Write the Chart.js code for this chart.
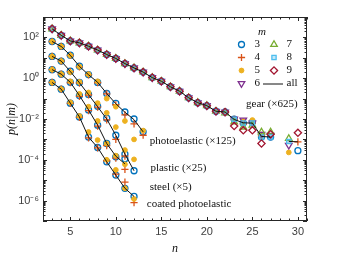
<!DOCTYPE html>
<html><head><meta charset="utf-8">
<script src="https://cdn.jsdelivr.net/npm/chart.js@4/dist/chart.umd.min.js"></script>
<style>html,body{margin:0;padding:0;background:#fff}</style>
</head><body>
<canvas id="c" width="339" height="256" style="width:339px;height:256px;display:block"></canvas>
<script>
// ---------------- data ----------------
const gearN = [3,4,5,6,7,8,9,10,11,12,13,14,15,16,17,18,19,20,21,22,23,24,25,26,27,28,29,30];
const gearAll = [263,126,67,54,37,24,14.5,9.3,5.2,3.2,2.0,1.07,0.71,0.38,0.23,0.11,0.063,0.045,0.024,0.022,0.0095,0.0065,0.0063,0.0014,0.0013,null,0.0008,0.00076];
const gearM3 = [263,126,67,54,37,24,14.5,9.3,5.2,3.2,2.0,1.07,0.71,0.38,0.23,0.11,0.063,0.045,0.024,0.022,0.0098,0.0063,0.0071,0.0013,0.0013,null,null,0.00028];
const gearM4 = [263,126,67,54,37,24,14.5,9.3,5.2,3.2,2.0,1.07,0.71,0.38,0.23,0.11,0.063,0.045,0.026,0.022,0.0095,0.0056,0.0063,0.0016,null,null,null,0.00076];
const gearM5 = [263,126,67,54,37,24,14.5,9.3,5.2,3.2,2.0,1.07,0.71,0.38,0.23,0.11,0.063,0.045,0.024,0.022,0.009,0.0079,0.0089,0.0014,null,null,0.00023,null];
const gearM6 = [263,126,67,54,37,24,14.5,9.3,5.2,3.2,2.0,1.07,0.71,0.38,0.23,0.11,0.063,0.045,0.024,0.022,0.010,0.0089,0.0063,0.0018,0.0016,null,0.00052,null];
const gearM7 = [263,126,67,54,37,24,14.5,9.3,5.2,3.2,2.0,1.07,0.71,0.38,0.23,0.11,0.063,0.045,0.024,0.020,0.0071,0.0040,0.0050,0.0023,0.0023,null,0.0011,null];
const gearM8 = [263,126,67,54,37,24,14.5,9.3,5.2,3.2,2.0,1.07,0.71,0.38,0.23,0.11,0.063,0.045,0.024,0.022,0.0098,0.0063,0.0063,0.0013,0.0013,null,0.00079,null];
const gearM9 = [263,126,67,54,37,24,14.5,9.3,5.2,3.2,2.0,1.07,0.71,0.38,0.23,0.11,0.063,0.045,0.024,0.022,0.0045,0.0028,0.0028,0.00063,0.0018,null,null,0.0021];

const photoN = [3,4,5,6,7,8,9,10,11,12,13];
const photoAll = [63,36,13.2,3.8,1.48,0.63,0.178,0.056,0.0214,0.0093,0.00234];
const photoM3 = [63,36,13.5,3.9,1.5,0.62,0.18,0.058,0.022,0.010,0.00234];
const photoM4 = [63,36,13.0,3.6,1.45,0.60,0.17,0.050,0.016,0.0058,0.0016];
const photoM5 = [63,36,13.0,3.7,1.55,0.70,0.10,0.040,0.008,0.001,0.0027];

const plasticN = [3,4,5,6,7,8,9,10,11,12];
const plasticAll = [11.7,6.9,2.14,0.6,0.158,0.04,0.01,0.0016,0.00019,0.000029];
const plasticM3 = [11.7,6.9,2.2,0.62,0.16,0.042,0.011,0.0016,0.00019,0.000029];
const plasticM4 = [11.7,6.9,2.1,0.58,0.15,0.038,0.009,0.001,0.00015,null];
const plasticM5 = [11.7,6.9,2.0,0.65,0.2,0.06,0.02,0.004,0.0003,0.000105];

const steelN = [3,4,5,6,7,8,9,10,11];
const steelAll = [2.63,1.58,0.63,0.141,0.028,0.005,0.00063,0.00015,0.000063];
const steelM3 = [2.63,1.58,0.63,0.14,0.028,0.005,0.00063,0.00014,0.000112];
const steelM4 = [2.63,1.58,0.6,0.13,0.026,0.0045,0.0005,0.00012,0.000034];
const steelM5 = [2.63,1.58,0.7,0.17,0.04,0.008,0.00063,0.00016,0.00006];

const coatedN = [3,4,5,6,7,8,9,10,11,12];
const coatedAll = [0.62,0.29,0.06,0.0126,0.0013,0.0004,0.00008,0.0000178,0.000004,0.0000016];
const coatedM3 = [0.62,0.29,0.06,0.0126,0.0013,0.0004,0.00008,0.0000178,0.000004,0.0000016];
const coatedM4 = [0.62,0.29,0.058,0.012,0.0012,0.00038,0.00009,0.00002,0.0000081,0.00000079];
const coatedM5 = [0.62,0.29,0.065,0.014,0.0023,0.00093,0.0001,0.000032,0.000004,0.0000012];

const mValues = [3,4,5,6,7,8,9];
const xTickValues = [5,10,15,20,25,30];
const xTickLabels = ['5','10','15','20','25','30'];
const yTickValues = [1e-6,1e-4,1e-2,1,1e2];
const yTickLabels = ['10\u207B\u2076','10\u207B\u2074','10\u207B\u00B2','10\u2070','10\u00B2'];
const systemLabels = ['gear (\u00D7625)','photoelastic (\u00D7125)','plastic (\u00D725)','steel (\u00D75)','coated photoelastic'];

// ---------------- styles ----------------
const mStyle = {
  3:{pointStyle:'circle', radius:3, color:'#0072BD', bg:'rgba(0,0,0,0)', bw:1.3, rot:0},
  4:{pointStyle:'cross', radius:3.6, color:'#D95319', bg:'rgba(0,0,0,0)', bw:1.3, rot:0},
  5:{pointStyle:'circle', radius:2.4, color:'#EDB120', bg:'#EDB120', bw:1, rot:0},
  6:{pointStyle:'triangle', radius:3.8, color:'#7E2F8E', bg:'rgba(0,0,0,0)', bw:1.3, rot:180},
  7:{pointStyle:'triangle', radius:3.8, color:'#77AC30', bg:'rgba(0,0,0,0)', bw:1.3, rot:0},
  8:{pointStyle:'rect', radius:3, color:'#4DBEEE', bg:'rgba(77,190,238,0.35)', bw:1.3, rot:0},
  9:{pointStyle:'rectRot', radius:3.6, color:'#A2142F', bg:'rgba(0,0,0,0)', bw:1.3, rot:0}
};

function pts(ns, vals){ return ns.map((n,i)=>({x:n, y:vals[i]})); }

const systems = [
  {n:gearN, all:gearAll, m:{3:gearM3,4:gearM4,5:gearM5,6:gearM6,7:gearM7,8:gearM8,9:gearM9}},
  {n:photoN, all:photoAll, m:{3:photoM3,4:photoM4,5:photoM5}},
  {n:plasticN, all:plasticAll, m:{3:plasticM3,4:plasticM4,5:plasticM5}},
  {n:steelN, all:steelAll, m:{3:steelM3,4:steelM4,5:steelM5}},
  {n:coatedN, all:coatedAll, m:{3:coatedM3,4:coatedM4,5:coatedM5}}
];

const datasets = [];
systems.forEach(sys=>{
  datasets.push({label:'all', data:pts(sys.n, sys.all), showLine:true, borderColor:'#111', borderWidth:1,
    pointRadius:0, pointHoverRadius:0, spanGaps:false, order:0, fill:false});
  mValues.forEach(m=>{
    if(!sys.m[m]) return;
    const s = mStyle[m];
    datasets.push({label:String(m), data:pts(sys.n, sys.m[m]), showLine:false,
      pointStyle:s.pointStyle, pointRadius:s.radius, pointRotation:s.rot,
      borderColor:s.color, backgroundColor:s.bg, pointBorderWidth:s.bw, pointBackgroundColor:s.bg, pointBorderColor:s.color,
      order:10-m+1});
  });
});

// ---------------- decorations ----------------
const labelAnchors = [
  {x:24.3, y:0.054}, {x:13.73, y:8.5e-4}, {x:13.8, y:4.1e-5}, {x:13.73, y:4.8e-6}, {x:13.4, y:7e-7}
];

const deco = {
  id:'deco',
  afterDatasetsDraw(chart){
    const {ctx, chartArea:a, scales:{x, y}} = chart;
    ctx.save();
    ctx.strokeStyle = '#262626'; ctx.lineWidth = 1;
    ctx.strokeRect(Math.round(a.left)+0.5, Math.round(a.top)+0.5, Math.round(a.right-a.left)-1, Math.round(a.bottom-a.top)-1);
    ctx.beginPath();
    for(let v=2; v<=31; v++){
      const px = Math.round(x.getPixelForValue(v))+0.5;
      const L = (v%5===0)?4:2.5;
      ctx.moveTo(px, a.bottom); ctx.lineTo(px, a.bottom-L);
      ctx.moveTo(px, a.top); ctx.lineTo(px, a.top+L);
    }
    for(let k=-7; k<=2; k++){
      for(let j=1; j<=9; j++){
        const v = j*Math.pow(10,k);
        const py = Math.round(y.getPixelForValue(v))+0.5;
        const L = (j===1)?4:2.5;
        ctx.moveTo(a.left, py); ctx.lineTo(a.left+L, py);
        ctx.moveTo(a.right, py); ctx.lineTo(a.right-L, py);
      }
    }
    const pt = Math.round(y.getPixelForValue(1e3))+0.5;
    ctx.moveTo(a.left, pt); ctx.lineTo(a.left+4, pt);
    ctx.moveTo(a.right, pt); ctx.lineTo(a.right-4, pt);
    ctx.stroke();

    ctx.fillStyle = '#111';
    ctx.font = '11px "Liberation Serif"';
    ctx.textBaseline = 'middle'; ctx.textAlign = 'left';
    systemLabels.forEach((t,i)=>{
      ctx.fillText(t, x.getPixelForValue(labelAnchors[i].x), y.getPixelForValue(labelAnchors[i].y));
    });

    ctx.font = 'italic 11px "Liberation Serif"';
    ctx.textAlign = 'center';
    ctx.fillText('m', 262, 32);
    ctx.font = '11px "Liberation Serif"';
    ctx.textAlign = 'left';
    const rows = [44.5, 57.5, 70.5, 83.5];
    mValues.forEach((m,i)=>{
      const col = i<4?0:1, row = i%4;
      const mx = col===0?241.5:274, tx = col===0?254.5:286.5;
      const s = mStyle[m];
      ctx.strokeStyle = s.color; ctx.fillStyle = s.bg; ctx.lineWidth = s.bw;
      Chart.helpers.drawPoint(ctx, {pointStyle:s.pointStyle, radius:s.radius, rotation:s.rot, borderWidth:s.bw}, mx, rows[row]);
      ctx.fillStyle = '#111';
      ctx.fillText(String(m), tx, rows[row]);
    });
    ctx.strokeStyle = '#111'; ctx.lineWidth = 1;
    ctx.beginPath(); ctx.moveTo(263, rows[3]+0.5); ctx.lineTo(283, rows[3]+0.5); ctx.stroke();
    ctx.fillStyle = '#111';
    ctx.fillText('all', 286.5, rows[3]);
    ctx.restore();
  }
};

new Chart(document.getElementById('c'), {
  type:'scatter',
  data:{datasets},
  options:{
    responsive:false, animation:false, devicePixelRatio:1,
    layout:{padding:{left:0, right:32, top:17, bottom:0}},
    plugins:{legend:{display:false}, tooltip:{enabled:false}},
    scales:{
      x:{type:'linear', min:2, max:31,
        afterBuildTicks:s=>{ s.ticks = xTickValues.map(v=>({value:v})); },
        ticks:{callback:(v,i)=>xTickLabels[i], autoSkip:false, maxRotation:0, padding:4,
          font:{family:'Liberation Sans', size:11}, color:'#404040'},
        grid:{display:false, drawTicks:false}, border:{display:false},
        title:{display:true, text:'n', font:{family:'Liberation Serif', style:'italic', size:12}, color:'#111', padding:{top:4,bottom:0}},
        afterFit:s=>{ s.height = 35; }
      },
      y:{type:'logarithmic', min:1e-7, max:1e3,
        afterBuildTicks:s=>{ s.ticks = yTickValues.map(v=>({value:v})); },
        ticks:{callback:(v,i)=>yTickLabels[i], autoSkip:false, padding:4,
          font:{family:'Liberation Sans', size:11}, color:'#404040'},
        grid:{display:false, drawTicks:false}, border:{display:false},
        title:{display:true, text:'p(n|m)', font:{family:'Liberation Serif', style:'italic', size:12}, color:'#111', padding:{top:5,bottom:0}},
        afterFit:s=>{ s.width = 43; }
      }
    }
  },
  plugins:[deco]
});
</script>
</body></html>
